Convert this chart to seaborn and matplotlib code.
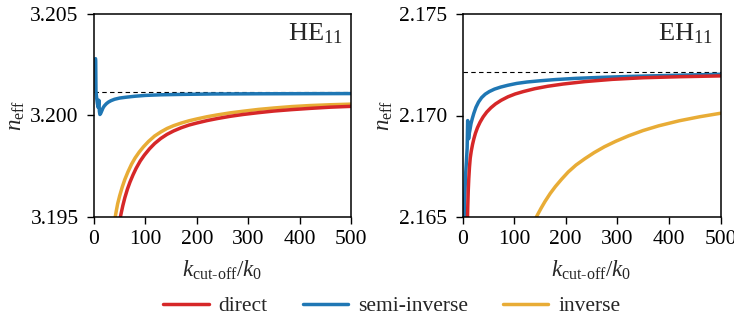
import numpy as np
import pandas as pd
import matplotlib
matplotlib.use("Agg")
import matplotlib.pyplot as plt
import seaborn as sns
from matplotlib.lines import Line2D

# ---------------- data ----------------
# HE11 panel
he_direct_x = [50, 53, 56, 60, 65, 70, 76, 82, 90, 98, 108, 118, 130, 142, 155, 170, 185, 200, 220, 240, 265, 290,
               320, 350, 385, 420, 460, 500]
he_direct_y = [3.19484, 3.19520, 3.19555, 3.19595, 3.19637, 3.19672, 3.19708, 3.19740, 3.19776, 3.19805, 3.19836,
               3.19862, 3.19887, 3.19907, 3.19924, 3.19940, 3.19953, 3.19963, 3.19975, 3.19985, 3.19996, 3.20005,
               3.20014, 3.20022, 3.20029, 3.20035, 3.20041, 3.20045]

he_semi_x = [3, 3.3, 3.8, 5, 6.5, 8, 9.5, 10.5, 11.5, 13, 15, 17.5, 20, 24, 28, 33, 40, 50, 62, 80, 100, 130, 170,
             230, 320, 500]
he_semi_y = [3.2028, 3.2027, 3.2012, 3.2009, 3.2006, 3.2004, 3.20075, 3.2002, 3.20005, 3.2001, 3.20022, 3.20037,
             3.20047, 3.20058, 3.20066, 3.20073, 3.20080, 3.20086, 3.20090, 3.20095, 3.20099, 3.20102, 3.20104,
             3.20106, 3.20107, 3.20108]

he_inverse_x = [40, 43, 46, 50, 55, 60, 66, 73, 80, 88, 96, 106, 118, 130, 142, 155, 170, 185, 200, 220, 240, 265,
                290, 320, 350, 385, 420, 460, 500]
he_inverse_y = [3.19480, 3.19525, 3.19565, 3.19605, 3.19648, 3.19685, 3.19722, 3.19760, 3.19791, 3.19820, 3.19845,
                3.19872, 3.19899, 3.19919, 3.19936, 3.19950, 3.19963, 3.19974, 3.19983, 3.19994, 3.20003, 3.20013,
                3.20021, 3.20030, 3.20037, 3.20044, 3.20049, 3.20053, 3.20056]
he_ref = 3.20115

# EH11 panel
eh_direct_x = [9.5, 10.3, 11.2, 12.2, 13.5, 15, 17, 19.5, 22, 25, 29, 34, 40, 47, 55, 64, 75, 88, 102, 118, 140,
               165, 195, 237, 290, 350, 420, 500]
eh_direct_y = [2.1648, 2.1656, 2.16633, 2.1669, 2.16745, 2.1679, 2.16825, 2.16858, 2.16885, 2.16912, 2.16940,
               2.16967, 2.16993, 2.17017, 2.17038, 2.17057, 2.17075, 2.17092, 2.17106, 2.17118, 2.17132, 2.17144,
               2.17155, 2.17167, 2.17178, 2.17186, 2.17191, 2.17195]

eh_semi_x = [3, 4.5, 6, 7.5, 9, 10, 10.8, 11.8, 13, 14.5, 16.5, 19, 22, 26, 31, 37, 44, 52, 62, 74, 88, 105, 125,
             150, 180, 220, 270, 330, 410, 500]
eh_semi_y = [2.1648, 2.1660, 2.1671, 2.1677, 2.1684, 2.16975, 2.1694, 2.16885, 2.1691, 2.1693, 2.1696, 2.16985,
             2.17011, 2.1704, 2.17066, 2.17088, 2.17105, 2.17118, 2.1713, 2.1714, 2.17149, 2.17158, 2.17165,
             2.17171, 2.17177, 2.17183, 2.17188, 2.17193, 2.17198, 2.17203]

eh_inverse_x = [140, 145, 152, 160, 170, 180, 192, 205, 220, 237, 255, 275, 297, 322, 350, 380, 420, 460, 500]
eh_inverse_y = [2.16484, 2.16509, 2.16542, 2.16577, 2.16616, 2.16650, 2.16686, 2.16722, 2.16756, 2.16787, 2.16817,
                2.16846, 2.16873, 2.16900, 2.16926, 2.16949, 2.16974, 2.16994, 2.17011]
eh_ref = 2.17216

methods = ["direct", "semi-inverse", "inverse"]
colors = {"direct": "#D62728", "semi-inverse": "#1F77B4", "inverse": "#E8AC36"}
draw_order = ["semi-inverse", "inverse", "direct"]

he_ticks = [3.195, 3.200, 3.205]
eh_ticks = [2.165, 2.170, 2.175]
x_ticks = [0, 100, 200, 300, 400, 500]

# ---------------- style ----------------
sns.set_theme(style="ticks")
plt.rcParams["font.family"] = ["Liberation Serif", "DejaVu Serif"]
plt.rcParams["mathtext.fontset"] = "custom"
plt.rcParams["mathtext.rm"] = "Liberation Serif"
plt.rcParams["mathtext.it"] = "Liberation Serif:italic"
plt.rcParams["mathtext.bf"] = "Liberation Serif:bold"

fig = plt.figure(figsize=(7.34, 3.24), dpi=100)
W, H = 734, 324
ax_b, ax_t = 217, 14
ax1 = fig.add_axes([94 / W, 1 - ax_b / H, (351 - 94) / W, (ax_b - ax_t) / H])
ax2 = fig.add_axes([462.5 / W, 1 - ax_b / H, (720.5 - 462.5) / W, (ax_b - ax_t) / H])


def panel(ax, data, ref, yticks, title):
    for m in draw_order:
        xs, ys = data[m]
        df = pd.DataFrame({"x": xs, "y": ys})
        sns.lineplot(data=df, x="x", y="y", ax=ax, color=colors[m], linewidth=2.5,
                     estimator=None, sort=False, legend=False)
    ax.axhline(ref, color="black", lw=0.8, ls=(0, (4, 3)), zorder=1)
    ax.set_xlim(0, 500)
    ax.set_ylim(yticks[0], yticks[-1])
    ax.set_xticks(x_ticks)
    ax.set_yticks(yticks)
    ax.set_yticklabels([f"{t:.3f}" for t in yticks])
    for s in ax.spines.values():
        s.set_visible(True)
        s.set_linewidth(1.1)
        s.set_color("black")
    ax.tick_params(axis="both", direction="out", length=5, width=1.0, pad=4,
                   labelsize=15.5, colors="black")
    ax.tick_params(axis="y", pad=6)
    ax.set_xlabel(r"$k_{\mathrm{cut\text{-}off}}/k_0$", fontsize=16.5, labelpad=7)
    ax.set_ylabel(r"$n_{\mathrm{eff}}$", fontsize=16.5)
    ax.yaxis.set_label_coords(-0.262, 0.5)
    ax.text(1 - 8 / 257, 1 - 7 / 203, title, transform=ax.transAxes,
            ha="right", va="top", fontsize=19)


panel(ax1, {"direct": (he_direct_x, he_direct_y), "semi-inverse": (he_semi_x, he_semi_y),
            "inverse": (he_inverse_x, he_inverse_y)}, he_ref, he_ticks, r"HE$_{11}$")
panel(ax2, {"direct": (eh_direct_x, eh_direct_y), "semi-inverse": (eh_semi_x, eh_semi_y),
            "inverse": (eh_inverse_x, eh_inverse_y)}, eh_ref, eh_ticks, r"EH$_{11}$")

handles = [Line2D([], [], color=colors[m], lw=2.5) for m in methods]
fig.legend(handles, methods, loc="center", bbox_to_anchor=(392 / W, 1 - 306 / H), ncol=3,
           frameon=False, fontsize=15.5, handlelength=2.1, handletextpad=0.47, columnspacing=1.63)

fig.savefig("out.png", dpi=100)
